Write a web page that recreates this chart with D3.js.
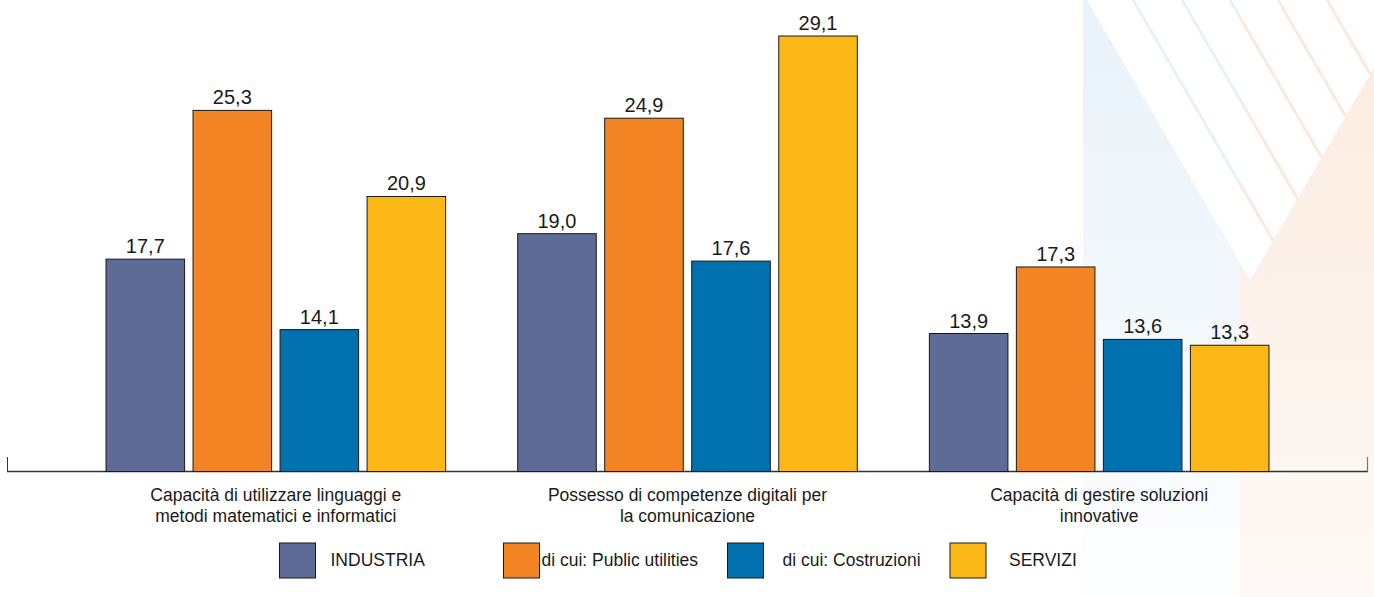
<!DOCTYPE html>
<html>
<head>
<meta charset="utf-8">
<script src="https://cdn.jsdelivr.net/npm/d3@7"></script>
<style>
  html, body { margin: 0; padding: 0; background: #ffffff; }
  svg { display: block; }
  text { font-family: "Liberation Sans", Arial, Helvetica, sans-serif; fill: #1a1a1a; }
</style>
</head>
<body>
<svg id="chart" width="1374" height="597"></svg>
<script>
// ---- data ----
const categories = [
  ["Capacità di utilizzare linguaggi e", "metodi matematici e informatici"],
  ["Possesso di competenze digitali per", "la comunicazione"],
  ["Capacità di gestire soluzioni", "innovative"]
];
const seriesNames = ["INDUSTRIA", "di cui: Public utilities", "di cui: Costruzioni", "SERVIZI"];
const industria      = [17.7, 19.0, 13.9];
const publicUtilities = [25.3, 24.9, 17.3];
const costruzioni    = [14.1, 17.6, 13.6];
const servizi        = [20.9, 29.1, 13.3];
const seriesValues = [industria, publicUtilities, costruzioni, servizi];
const colors = ["#5e6b97", "#f28424", "#0070ae", "#fbb817"];

// ---- layout ----
const W = 1374, H = 597;
const baseY = 471.5;
const svg = d3.select("#chart");
const defs = svg.append("defs");

// decorative background (right side)
const gBlue = defs.append("linearGradient").attr("id", "gBlue").attr("x1", 0).attr("y1", 0).attr("x2", 0).attr("y2", 1);
gBlue.append("stop").attr("offset", "0%").attr("stop-color", "#e8f2f9");
gBlue.append("stop").attr("offset", "100%").attr("stop-color", "#fdfeff");
const gPeach = defs.append("linearGradient").attr("id", "gPeach").attr("x1", 0).attr("y1", 0).attr("x2", 0).attr("y2", 1);
gPeach.append("stop").attr("offset", "0%").attr("stop-color", "#fcebde");
gPeach.append("stop").attr("offset", "100%").attr("stop-color", "#fdf9f6");

const deco = svg.append("g");
deco.append("rect").attr("x", 1083).attr("y", 0).attr("width", 157).attr("height", H).attr("fill", "url(#gBlue)");
deco.append("rect").attr("x", 1240).attr("y", 0).attr("width", W - 1240).attr("height", H).attr("fill", "url(#gPeach)");
// white V with thin tinted gaps
const vPts = [[1087, 0], [W, 0], [W, 68], [1250, 280]];
deco.append("polygon").attr("points", vPts.map(p => p.join(",")).join(" ")).attr("fill", "#ffffff");
defs.append("clipPath").attr("id", "vclip").append("polygon").attr("points", vPts.map(p => p.join(",")).join(" "));
const slope = 280 / 163;
const stripeStarts = [1133, 1182, 1230, 1278, 1327];
const leftClip = defs.append("clipPath").attr("id", "leftClip");
leftClip.append("rect").attr("x", 0).attr("y", 0).attr("width", 1240).attr("height", H);
const rightClip = defs.append("clipPath").attr("id", "rightClip");
rightClip.append("rect").attr("x", 1240).attr("y", 0).attr("width", W - 1240).attr("height", H);
const stripesG = deco.append("g").attr("clip-path", "url(#vclip)");
[["leftClip", "#e6f1f8"], ["rightClip", "#fbe9dc"]].forEach(([cid, col]) => {
  const g = stripesG.append("g").attr("clip-path", `url(#${cid})`);
  stripeStarts.forEach(x0 => {
    g.append("line").attr("x1", x0).attr("y1", 0).attr("x2", x0 + 400).attr("y2", 400 * slope)
      .attr("stroke", col).attr("stroke-width", 3);
  });
});

// scales
const x0 = d3.scaleBand().domain(d3.range(categories.length)).range([70, 1305])
  .paddingInner(0.175).paddingOuter(0.0875);
const x1 = d3.scaleBand().domain(d3.range(seriesNames.length)).range([0, x0.bandwidth()])
  .paddingInner(0.097).paddingOuter(0);
const y = d3.scaleLinear().domain([6.85, 29.1]).range([baseY, 36]);

// axis line
const axisG = svg.append("g");
axisG.append("line").attr("x1", 7).attr("x2", 1368).attr("y1", baseY).attr("y2", baseY)
  .attr("stroke", "#333").attr("stroke-width", 1.3);
axisG.append("line").attr("x1", 7.5).attr("x2", 7.5).attr("y1", 457).attr("y2", baseY)
  .attr("stroke", "#333").attr("stroke-width", 1);
axisG.append("line").attr("x1", 1367.5).attr("x2", 1367.5).attr("y1", 457).attr("y2", baseY)
  .attr("stroke", "#777").attr("stroke-width", 1.2);

// bars
const groups = svg.append("g").selectAll("g").data(categories).join("g")
  .attr("transform", (d, i) => `translate(${x0(i)},0)`);
groups.each(function (cat, ci) {
  const g = d3.select(this);
  const vals = seriesValues.map(s => s[ci]);
  g.selectAll("rect").data(vals).join("rect")
    .attr("x", (d, si) => x1(si))
    .attr("y", d => y(d))
    .attr("width", x1.bandwidth())
    .attr("height", d => baseY - y(d))
    .attr("fill", (d, si) => colors[si])
    .attr("stroke", "#1a1a1a").attr("stroke-width", 1);
  g.selectAll("text.val").data(vals).join("text").attr("class", "val")
    .attr("x", (d, si) => x1(si) + x1.bandwidth() / 2)
    .attr("y", d => y(d) - 6)
    .attr("text-anchor", "middle")
    .attr("font-size", 20)
    .text(d => d.toFixed(1).replace(".", ","));
});

// category labels
const catG = svg.append("g");
categories.forEach((lines, i) => {
  const cx = x0(i) + x0.bandwidth() / 2;
  const t = catG.append("text").attr("text-anchor", "middle").attr("font-size", 17.5);
  lines.forEach((ln, li) => {
    t.append("tspan").attr("x", cx).attr("y", 501 + li * 21).text(ln);
  });
});

// legend
const legendSquareX = [279.5, 503.5, 727.5, 950];
const legendTextDx = [51, 38, 55, 59];
const lg = svg.append("g");
seriesNames.forEach((name, i) => {
  lg.append("rect").attr("x", legendSquareX[i]).attr("y", 543).attr("width", 36).attr("height", 35)
    .attr("fill", colors[i]).attr("stroke", "#1a1a1a").attr("stroke-width", 1);
  lg.append("text").attr("x", legendSquareX[i] + legendTextDx[i]).attr("y", 566)
    .attr("font-size", 17.5).text(name);
});
</script>
</body>
</html>
